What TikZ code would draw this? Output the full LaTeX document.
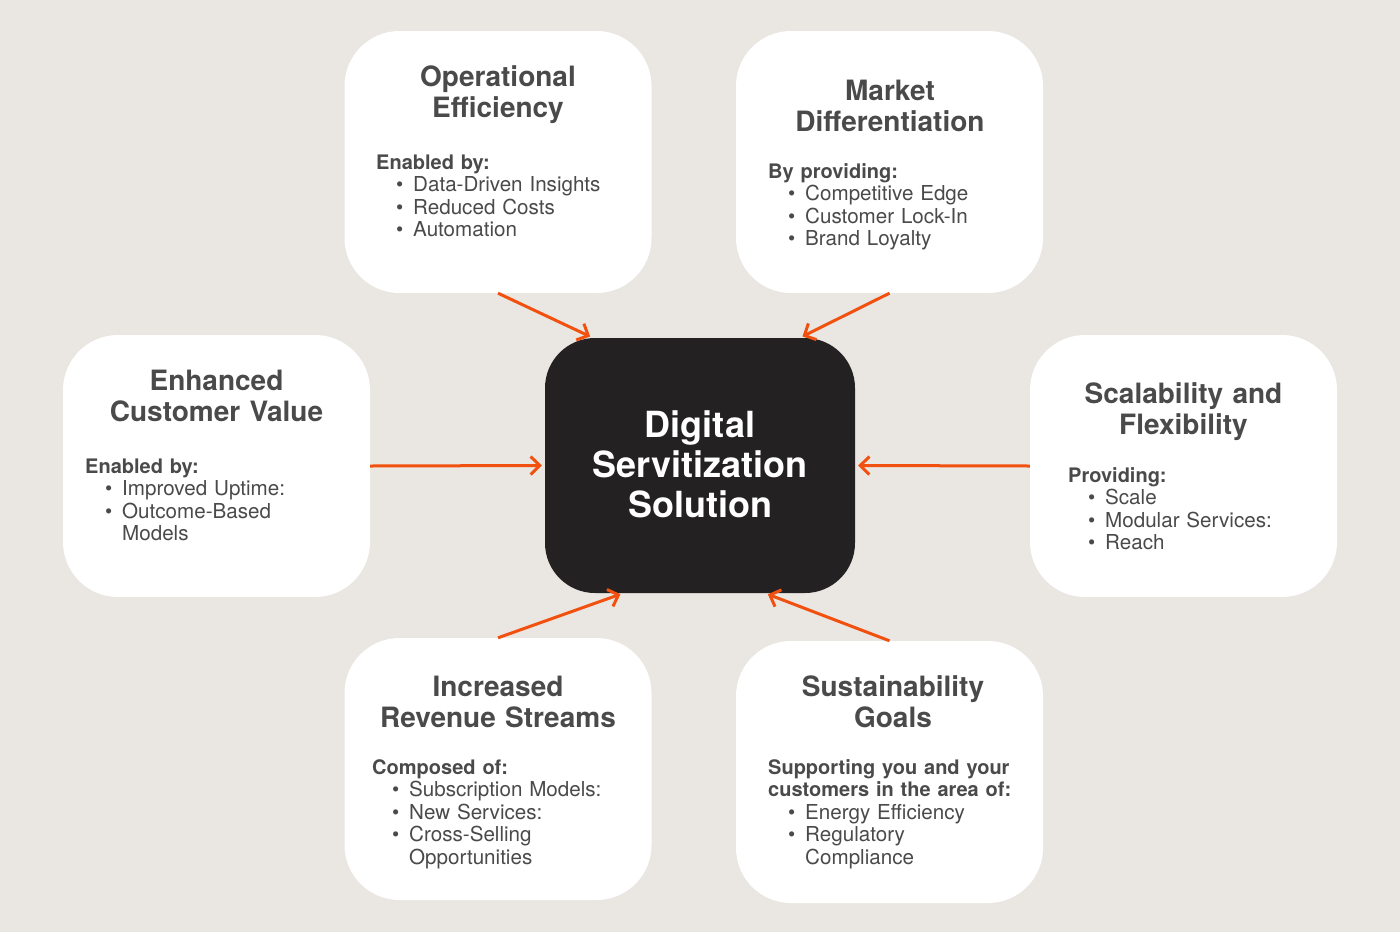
\documentclass[tikz,border=0pt]{standalone}
\usepackage{fontspec}
\setmainfont{TeX Gyre Heros}
\usepackage{xcolor}
\usetikzlibrary{arrows.meta}
\definecolor{paper}{HTML}{EAE7E2}
\definecolor{ink}{HTML}{4A4A4A}
\definecolor{coal}{HTML}{232121}
\definecolor{flame}{HTML}{F2500F}
\newcommand\Head[1]{{\fontsize{20}{22.5}\selectfont\bfseries #1}}
\newcommand\Item[1]{\hspace*{20pt}\makebox[17pt][l]{\textbullet}#1}
\newcommand\Cont[1]{\hspace*{37pt}#1}

\begin{document}
\begin{tikzpicture}
      [
        x=1pt, y=-1pt,
        card/.style={fill=white,rounded corners=55pt,minimum width=307pt,minimum height=262pt,inner sep=0pt},
        core/.style={fill=coal,rounded corners=50pt,minimum width=310pt,minimum height=255pt,inner sep=0pt},
        title/.style={anchor=base,text width=300pt,align=center,text=ink,inner sep=0pt,
          font=\fontsize{28}{31}\selectfont\bfseries},
        body/.style={anchor=base west,text width=290pt,align=left,text=ink,inner sep=0pt,
          font=\fontsize{20.6}{22.5}\selectfont},
        link/.style={draw=flame,line width=3pt,shorten >=3pt,
          -{Straight Barb[length=9pt,width=18pt]}}
      ]

      \fill[paper] (0,0) rectangle (1400,932);

      \node[core] (Core) at (700,465.5) {};
      \node[anchor=base,text width=300pt,align=center,text=white,inner sep=0pt,
        font=\fontsize{36}{40}\selectfont\bfseries] (CoreText) at (700,437)
        {Digital\\Servitization\\Solution};

      \node[card] (OpEff) at (498,162) {};
      \node[title] (OpEffTitle) at (498,86) {Operational\\Efficiency};
      \node[body] (OpEffText) at (376,169) {\Head{Enabled by:}\\
        \Item{Data-Driven Insights}\\ \Item{Reduced Costs}\\ \Item{Automation}};

      \node[card] (Market) at (889.5,162) {};
      \node[title] (MarketTitle) at (890,100) {Market\\Differentiation};
      \node[body] (MarketText) at (768,178) {\Head{By providing:}\\
        \Item{Competitive Edge}\\ \Item{Customer Lock-In}\\ \Item{Brand Loyalty}};

      \node[card] (Value) at (216.5,466) {};
      \node[title] (ValueTitle) at (216.5,390) {Enhanced\\Customer Value};
      \node[body] (ValueText) at (85,473) {\Head{Enabled by:}\\
        \Item{Improved Uptime:}\\ \Item{Outcome-Based}\\ \Cont{Models}};

      \node[card] (Scale) at (1183.5,466) {};
      \node[title] (ScaleTitle) at (1183.5,403) {Scalability and\\Flexibility};
      \node[body] (ScaleText) at (1068,482) {\Head{Providing:}\\
        \Item{Scale}\\ \Item{Modular Services:}\\ \Item{Reach}};

      \node[card] (Revenue) at (498,769) {};
      \node[title] (RevenueTitle) at (498,696) {Increased\\Revenue Streams};
      \node[body] (RevenueText) at (372,774) {\Head{Composed of:}\\
        \Item{Subscription Models:}\\ \Item{New Services:}\\ \Item{Cross-Selling}\\ \Cont{Opportunities}};

      \node[card] (Green) at (889.5,772) {};
      \node[title] (GreenTitle) at (893,696) {Sustainability\\Goals};
      \node[body] (GreenText) at (768,774) {\Head{Supporting you and your}\\ \Head{customers in the area of:}\\
        \Item{Energy Efficiency}\\ \Item{Regulatory}\\ \Cont{Compliance}};

      \draw[link] (OpEff.south) -- (Core.130);
      \draw[link] (Market.south) -- (Core.52);
      \draw[link] (Value.east) -- (Core.west);
      \draw[link] (Scale.west) -- (Core.east);
      \draw[link] (Revenue.north) -- (Core.239);
      \draw[link] (Green.north) -- (Core.297);
    \end{tikzpicture}
\end{document}
